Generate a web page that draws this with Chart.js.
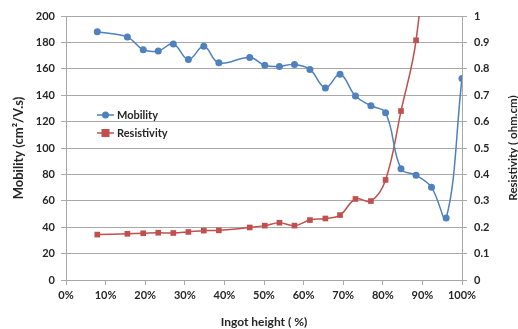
<!DOCTYPE html>
<html>
<head>
<meta charset="utf-8">
<script src="https://cdn.jsdelivr.net/npm/chart.js@4.4.1/dist/chart.umd.min.js"></script>
<style>
  html, body { margin: 0; padding: 0; background: #fff; }
  #wrap { width: 518px; height: 329px; position: relative; }
</style>
</head>
<body>
<div id="wrap"><canvas id="c" width="518" height="329"></canvas></div>
<script>
// Ingot height positions (%) of the measured slices
const heightPct = [7.9, 15.5, 19.5, 23.3, 27.1, 30.9, 34.8, 38.6, 46.4, 50.2, 53.9, 57.7, 61.6, 65.5, 69.2, 73.1, 77.0, 80.7, 84.6, 88.4, 92.3, 96.0, 100.0];
// Hall mobility, cm2/V.s
const mobility = [188, 184, 174.5, 173.5, 178.8, 167, 177, 164.5, 168.6, 162.6, 161.8, 163.3, 159.5, 145.5, 155.8, 139.4, 132, 126.7, 84.3, 79.3, 70.2, 47, 152.7];
// Resistivity, ohm.cm
const resistivity = [0.172, 0.175, 0.177, 0.179, 0.178, 0.182, 0.187, 0.188, 0.199, 0.206, 0.217, 0.206, 0.227, 0.233, 0.246, 0.307, 0.299, 0.379, 0.64, 0.908, 1.5];

const seriesNames = ['Mobility', 'Resistivity'];
const seriesColors = ['#4F81BD', '#C0504D'];
const rightTitle = 'Resistivity ( ohm.cm)';

const xyPairs = (xs, ys) => ys.map((v, i) => ({ x: xs[i], y: v }));

const FONT = 'Lato, "Open Sans", sans-serif';
const GRID = '#a8a8a8';
const TEXT = '#262626';

// Legend inside the plot area plus the secondary axis title, read bottom-to-top
const extras = {
  id: 'extras',
  afterDraw(chart) {
    const ctx = chart.ctx;
    const rows = [
      { y: 115, name: seriesNames[0], color: seriesColors[0], shape: 'circle' },
      { y: 133, name: seriesNames[1], color: seriesColors[1], shape: 'rect' }
    ];
    ctx.save();
    rows.forEach(r => {
      ctx.strokeStyle = r.color;
      ctx.lineWidth = 1.5;
      ctx.beginPath();
      ctx.moveTo(97, r.y);
      ctx.lineTo(114, r.y);
      ctx.stroke();
      ctx.fillStyle = r.color;
      if (r.shape === 'circle') {
        ctx.beginPath();
        ctx.arc(105.5, r.y, 3.5, 0, Math.PI * 2);
        ctx.fill();
      } else {
        ctx.fillRect(101.5, r.y - 4, 8, 8);
      }
      ctx.fillStyle = TEXT;
      ctx.font = 'bold 11px ' + FONT;
      ctx.textBaseline = 'middle';
      ctx.textAlign = 'left';
      ctx.fillText(r.name, 117, r.y);
    });

    const area = chart.chartArea;
    ctx.translate(513, (area.top + area.bottom) / 2);
    ctx.rotate(-Math.PI / 2);
    ctx.fillStyle = TEXT;
    ctx.font = 'bold 11.5px ' + FONT;
    ctx.textAlign = 'center';
    ctx.textBaseline = 'middle';
    ctx.fillText(rightTitle, 0, 0);
    ctx.restore();
  }
};

new Chart(document.getElementById('c'), {
  type: 'line',
  data: {
    datasets: [
      {
        label: seriesNames[0],
        data: xyPairs(heightPct, mobility),
        yAxisID: 'y',
        borderColor: seriesColors[0],
        backgroundColor: seriesColors[0],
        borderWidth: 1.5,
        pointStyle: 'circle',
        pointRadius: 3.5,
        pointBorderWidth: 0,
        tension: 0.4,
        fill: false
      },
      {
        label: seriesNames[1],
        data: xyPairs(heightPct, resistivity),
        yAxisID: 'y1',
        borderColor: seriesColors[1],
        backgroundColor: seriesColors[1],
        borderWidth: 1.5,
        pointStyle: 'rect',
        pointRadius: 4,
        pointBorderWidth: 0,
        tension: 0.4,
        fill: false
      }
    ]
  },
  options: {
    responsive: false,
    animation: false,
    devicePixelRatio: 1,
    layout: { padding: { top: 16, left: 0, right: 0, bottom: 0 } },
    plugins: {
      legend: { display: false },
      tooltip: { enabled: false }
    },
    scales: {
      x: {
        type: 'linear',
        min: 0,
        max: 100,
        ticks: {
          stepSize: 10,
          callback: v => v + '%',
          color: TEXT,
          font: { family: FONT, size: 11, weight: 'bold' },
          padding: 4,
          maxRotation: 0
        },
        grid: { drawOnChartArea: false, color: GRID, tickLength: 5 },
        border: { color: GRID },
        title: {
          display: true,
          text: 'Ingot height ( %)',
          color: TEXT,
          font: { family: FONT, size: 12, weight: 'bold' },
          padding: { top: 4, bottom: 0 }
        },
        afterFit: s => { s.height = 49; }
      },
      y: {
        position: 'left',
        min: 0,
        max: 200,
        ticks: {
          stepSize: 20,
          color: TEXT,
          font: { family: FONT, size: 11, weight: 'bold' },
          padding: 6
        },
        grid: { color: GRID, tickLength: 5 },
        border: { color: GRID },
        title: {
          display: true,
          text: 'Mobility (cm\u00B2/V.s)',
          color: TEXT,
          font: { family: FONT, size: 13, weight: 'bold', lineHeight: 1.2 },
          padding: { top: 11, bottom: 0 }
        },
        afterFit: s => { s.width = 66; }
      },
      y1: {
        position: 'right',
        min: 0,
        max: 1,
        ticks: {
          stepSize: 0.1,
          color: TEXT,
          font: { family: FONT, size: 11, weight: 'bold' },
          padding: 7,
          callback: v => Math.round(v * 10) / 10
        },
        grid: { drawOnChartArea: false, color: GRID, tickLength: 5 },
        border: { color: GRID },
        title: { display: false },
        afterFit: s => { s.width = 56; }
      }
    }
  },
  plugins: [extras]
});
</script>
</body>
</html>
